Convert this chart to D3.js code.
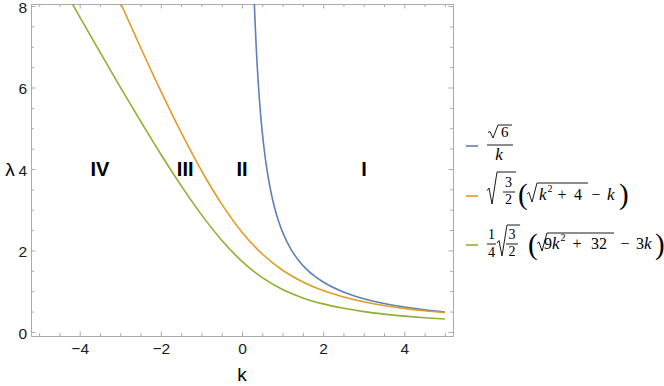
<!DOCTYPE html>
<html>
<head>
<meta charset="utf-8">
<script src="https://cdn.jsdelivr.net/npm/d3@7"></script>
<style>
  body { margin: 0; background: #fff; }
  svg { display: block; }
  .tick text { font-family: 'Liberation Sans', Arial, sans-serif; font-size: 15.5px; fill: #1a1a1a; }
</style>
</head>
<body>
<div id="chart"></div>
<script>
// k samples and values
var kBlue    = [0.30, 0.32, 0.35, 0.375, 0.40, 0.45, 0.50, 0.55, 0.60, 0.70, 0.80, 0.90, 1.0, 1.2, 1.4, 1.6, 1.8, 2.0, 2.5, 3.0, 3.5, 4.0, 4.5, 5.0];
var lamBlue  = [8.165, 7.654, 7.000, 6.532, 6.124, 5.443, 4.899, 4.454, 4.082, 3.499, 3.062, 2.722, 2.449, 2.041, 1.750, 1.531, 1.361, 1.225, 0.980, 0.816, 0.700, 0.612, 0.544, 0.490];

var kOrange   = [-3.0, -2.5, -2.0, -1.5, -1.0, -0.5, 0.0, 0.5, 1.0, 1.5, 2.0, 2.5, 3.0, 3.5, 4.0, 4.5, 5.0];
var lamOrange = [8.090, 6.983, 5.913, 4.899, 3.963, 3.137, 2.449, 1.913, 1.514, 1.225, 1.015, 0.859, 0.742, 0.650, 0.578, 0.520, 0.472];

var kGreen   = [-4.2, -4.0, -3.5, -3.0, -2.5, -2.0, -1.5, -1.0, -0.5, 0.0, 0.5, 1.0, 1.5, 2.0, 2.5, 3.0, 3.5, 4.0, 4.5, 5.0];
var lamGreen = [8.087, 7.736, 6.867, 6.011, 5.173, 4.362, 3.591, 2.879, 2.251, 1.732, 1.333, 1.042, 0.835, 0.688, 0.580, 0.499, 0.437, 0.388, 0.348, 0.316];

var xTicks = [-4, -2, 0, 2, 4];
var yTicks = [0, 2, 4, 6, 8];
var regionNames = ["IV", "III", "II", "I"];
var regionK = [-3.5, -1.4, 0.0, 3.01];
var regionLam = 4;

var colors = ["#5e81b5", "#e19c24", "#8fb032"];

var width = 664, height = 386;
var plotL = 31, plotR = 453, plotT = 4, plotB = 336;

var x = d3.scaleLinear().domain([-5.2, 5.2]).range([plotL, plotR]);
var y = d3.scaleLinear().domain([-0.1, 8.05]).range([plotB, plotT]);

var svg = d3.select("#chart").append("svg")
    .attr("width", width)
    .attr("height", height);

svg.append("clipPath").attr("id", "plotclip")
  .append("rect")
    .attr("x", plotL).attr("y", plotT)
    .attr("width", plotR - plotL).attr("height", plotB - plotT);

// minor ticks every 0.5
var xMinor = d3.range(-5, 5.01, 0.5).filter(function(v){ return xTicks.indexOf(v) < 0; });
var yMinor = d3.range(0, 8.01, 0.5).filter(function(v){ return yTicks.indexOf(v) < 0; });

var frameColor = "#ababab";

function styleAxis(g) {
  g.selectAll(".domain").attr("stroke", frameColor).attr("stroke-width", 1);
  g.selectAll(".tick line").attr("stroke", frameColor);
}

// frame with ticks on all 4 sides (pointing inward)
svg.append("g").attr("transform", "translate(0," + plotB + ")")
    .call(d3.axisBottom(x).tickValues(xTicks).tickSize(-4.5).tickSizeOuter(0).tickPadding(7)
      .tickFormat(function(d){ return d < 0 ? "\u2212" + Math.abs(d) : d; }))
    .call(styleAxis);
svg.append("g").attr("transform", "translate(0," + plotB + ")")
    .call(d3.axisBottom(x).tickValues(xMinor).tickSize(-3).tickSizeOuter(0).tickFormat(""))
    .call(styleAxis);
svg.append("g").attr("transform", "translate(0," + plotT + ")")
    .call(d3.axisTop(x).tickValues(xTicks).tickSize(-4.5).tickSizeOuter(0).tickFormat(""))
    .call(styleAxis);
svg.append("g").attr("transform", "translate(0," + plotT + ")")
    .call(d3.axisTop(x).tickValues(xMinor).tickSize(-3).tickSizeOuter(0).tickFormat(""))
    .call(styleAxis);
svg.append("g").attr("transform", "translate(" + plotL + ",0)")
    .call(d3.axisLeft(y).tickValues(yTicks).tickSize(-4.5).tickSizeOuter(0).tickPadding(4))
    .call(styleAxis)
    .call(function(g){ g.selectAll(".tick text").attr("dy", "0.4em"); });
svg.append("g").attr("transform", "translate(" + plotL + ",0)")
    .call(d3.axisLeft(y).tickValues(yMinor).tickSize(-3).tickSizeOuter(0).tickFormat(""))
    .call(styleAxis);
svg.append("g").attr("transform", "translate(" + plotR + ",0)")
    .call(d3.axisRight(y).tickValues(yTicks).tickSize(-4.5).tickSizeOuter(0).tickFormat(""))
    .call(styleAxis);
svg.append("g").attr("transform", "translate(" + plotR + ",0)")
    .call(d3.axisRight(y).tickValues(yMinor).tickSize(-3).tickSizeOuter(0).tickFormat(""))
    .call(styleAxis);

// curves
var series = [
  {k: kBlue, v: lamBlue},
  {k: kOrange, v: lamOrange},
  {k: kGreen, v: lamGreen}
];
var line = d3.line()
    .x(function(d){ return x(d[0]); })
    .y(function(d){ return y(d[1]); })
    .curve(d3.curveMonotoneX);

svg.append("g").attr("clip-path", "url(#plotclip)")
  .selectAll("path")
  .data(series)
  .enter().append("path")
    .attr("fill", "none")
    .attr("stroke", function(d, i){ return colors[i]; })
    .attr("stroke-width", 1.6)
    .attr("d", function(d){ return line(d.k.map(function(kk, j){ return [kk, d.v[j]]; })); });

// region labels
svg.append("g").selectAll("text")
  .data(regionNames)
  .enter().append("text")
    .attr("x", function(d, i){ return x(regionK[i]); })
    .attr("y", y(regionLam))
    .attr("dy", "0.36em")
    .attr("text-anchor", "middle")
    .style("font-family", "'Liberation Sans', Arial, sans-serif")
    .style("font-weight", "bold")
    .style("font-size", "20px")
    .text(function(d){ return d; });

// axis labels
svg.append("text")
    .attr("x", x(0)).attr("y", 381)
    .attr("text-anchor", "middle")
    .style("font-family", "'Liberation Sans', Arial, sans-serif")
    .style("font-size", "19px")
    .text("k");
svg.append("text")
    .attr("x", 10).attr("y", y(4))
    .attr("dy", "0.36em")
    .attr("text-anchor", "middle")
    .style("font-family", "'Liberation Sans', Arial, sans-serif")
    .style("font-size", "19px")
    .text("\u03bb");

// legend
var serif = "'Liberation Serif', 'DejaVu Serif', serif";
var lg = svg.append("g");

function tx(xx, yy, str, size, opts) {
  opts = opts || {};
  return lg.append("text")
    .attr("x", xx).attr("y", yy)
    .attr("text-anchor", opts.anchor || "start")
    .style("font-family", serif)
    .style("font-size", size + "px")
    .style("font-style", opts.italic ? "italic" : "normal")
    .text(str);
}
function hline(x1, x2, yy, w) {
  lg.append("line").attr("x1", x1).attr("x2", x2).attr("y1", yy).attr("y2", yy)
    .attr("stroke", "#000").attr("stroke-width", w || 0.9);
}
function radical(x0, yt, yb, x2) {
  var h = yb - yt;
  lg.append("path")
    .attr("fill", "none").attr("stroke", "#000").attr("stroke-width", 0.9)
    .attr("stroke-linejoin", "miter")
    .attr("d", "M" + x0 + "," + (yb - 0.42 * h) + "L" + (x0 + 2) + "," + (yb - 0.5 * h) +
               "L" + (x0 + 5) + "," + yb + "L" + (x0 + 10) + "," + yt + "L" + x2 + "," + yt);
}

var legY = [146, 196, 245];
lg.selectAll("line.key")
  .data(colors)
  .enter().append("line")
    .attr("class", "key")
    .attr("x1", 466).attr("x2", 478)
    .attr("y1", function(d, i){ return legY[i]; })
    .attr("y2", function(d, i){ return legY[i]; })
    .attr("stroke", function(d){ return d; })
    .attr("stroke-width", 1.6);

// entry 1: sqrt(6)/k
radical(488, 125, 138, 512);
tx(501, 137, "6", 15);
hline(487, 513, 145);
tx(499, 160, "k", 17, {italic: true, anchor: "middle"});

// entry 2: sqrt(3/2)(sqrt(k^2+4) - k)
radical(487, 172, 204, 516);
tx(508.5, 187, "3", 14, {anchor: "middle"});
hline(503, 515, 192);
tx(508.5, 204, "2", 14, {anchor: "middle"});
tx(518, 204, "(", 29);
radical(527, 183, 202, 588);
tx(539, 200, "k", 17, {italic: true});
tx(547.5, 192, "2", 10);
tx(562, 200, "+", 16, {anchor: "middle"});
tx(574, 200, "4", 16);
tx(596, 200, "\u2212", 16, {anchor: "middle"});
tx(607, 200, "k", 17, {italic: true});
tx(619, 204, ")", 29);

// entry 3: 1/4 sqrt(3/2)(sqrt(9k^2+32) - 3k)
tx(491.5, 239, "1", 14, {anchor: "middle"});
hline(487, 496, 244);
tx(491.5, 257, "4", 14, {anchor: "middle"});
radical(497, 225, 256, 520);
tx(512, 239, "3", 14, {anchor: "middle"});
hline(506, 518, 244);
tx(512, 256, "2", 14, {anchor: "middle"});
tx(528, 254, "(", 29);
radical(537, 233, 251, 614);
tx(544, 249, "9", 16);
tx(552, 249, "k", 17, {italic: true});
tx(560.5, 241, "2", 10);
tx(577, 249, "+", 16, {anchor: "middle"});
tx(591, 249, "32", 16);
tx(625, 249, "\u2212", 16, {anchor: "middle"});
tx(636, 249, "3", 16);
tx(644, 249, "k", 17, {italic: true});
tx(655, 254, ")", 29);
</script>
</body>
</html>
